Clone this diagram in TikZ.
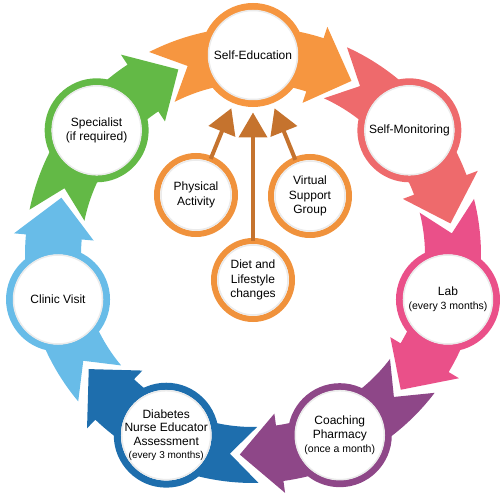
\documentclass[tikz,border=0pt]{standalone}
\usepackage{fontspec}
\setmainfont{Liberation Sans}
\usetikzlibrary{arrows.meta}
\definecolor{cSE}{HTML}{F69640}
\definecolor{cSM}{HTML}{EE6A6C}
\definecolor{cLab}{HTML}{EA5089}
\definecolor{cCo}{HTML}{8E4788}
\definecolor{cDN}{HTML}{1E6EAD}
\definecolor{cCl}{HTML}{68BCE8}
\definecolor{cSp}{HTML}{63B946}
\definecolor{cIn}{HTML}{F0923C}
\definecolor{cArr}{HTML}{C5732E}
\begin{document}
\begin{tikzpicture}[x=1pt,y=1pt,
  maincirc/.style={circle, minimum size=97pt, inner sep=0pt, outer sep=0pt, line width=7pt, fill=white, align=center, font=\fontsize{12}{14}\selectfont},
  innercirc/.style={circle, minimum size=78pt, inner sep=0pt, outer sep=0pt, line width=6pt, draw=cIn, fill=white, align=center, font=\fontsize{12}{14.5}\selectfont},
  feed/.style={draw=cArr, line width=4pt, -{Triangle[width=28pt,length=25pt]}, shorten >=9pt},
  shadowring/.style={draw=black!8, line width=1.5pt}
]
\useasboundingbox (0,0) rectangle (500,493);
\begin{scope}[shift={(253,238)}]
  \foreach \k/\col in {0/cSE,1/cSM,2/cLab,3/cCo,4/cDN,5/cCl,6/cSp} {
    \pgfmathsetmacro\aK{90-\k*360/7}
    \pgfmathsetmacro\aT{\aK-29.5}
    \pgfmathsetmacro\aB{\aK-18.04}
    \pgfmathsetmacro\aA{\aK+19.07}
    \pgfmathsetmacro\aC{\aK+27.09}
    \fill[\col] (\aC:228) arc[start angle=\aC, end angle=\aB, radius=228]
      -- (\aB:240) -- (\aT:200) -- (\aB:160) -- (\aB:172)
      arc[start angle=\aB, end angle=\aC, radius=172] -- (\aA:200) -- cycle;
  }
  \node[maincirc, draw=cSE] (se) at (90:200) {Self-Education};
  \node[maincirc, draw=cSM] (sm) at (90-360/7:200) {Self-Monitoring};
  \node[maincirc, draw=cLab] (lab) at (90-2*360/7:200) {Lab\\{\fontsize{10.5}{13}\selectfont (every 3 months)}};
  \node[maincirc, draw=cCo] (coach) at (90-3*360/7:200) {Coaching\\Pharmacy\\{\fontsize{10.5}{13}\selectfont (once a month)}};
  \node[maincirc, draw=cDN, font=\fontsize{12}{13.5}\selectfont] (dne) at (90-4*360/7:200) {Diabetes\\Nurse Educator\\Assessment\\{\fontsize{10}{12}\selectfont (every 3 months)}};
  \node[maincirc, draw=cCl] (clinic) at (90-5*360/7:200) {Clinic Visit};
  \node[maincirc, draw=cSp] (spec) at (90-6*360/7:200) {Specialist\\(if required)};
\end{scope}
\foreach \n in {se,sm,lab,coach,dne,clinic,spec} {
  \draw[shadowring] (\n.center) circle (44.5);
}
\node[innercirc] (phys) at (196,298) {Physical\\Activity};
\node[innercirc] (virt) at (310,297) {Virtual\\Support\\Group};
\node[innercirc] (diet) at (253,213) {Diet and\\Lifestyle\\changes};
\foreach \n in {phys,virt,diet} {
  \draw[draw=black!8, line width=1.5pt] (\n.center) circle (35);
}
\draw[feed] (phys) -- (se);
\draw[feed] (virt) -- (se);
\draw[feed] (diet) -- (se);
\end{tikzpicture}
\end{document}
